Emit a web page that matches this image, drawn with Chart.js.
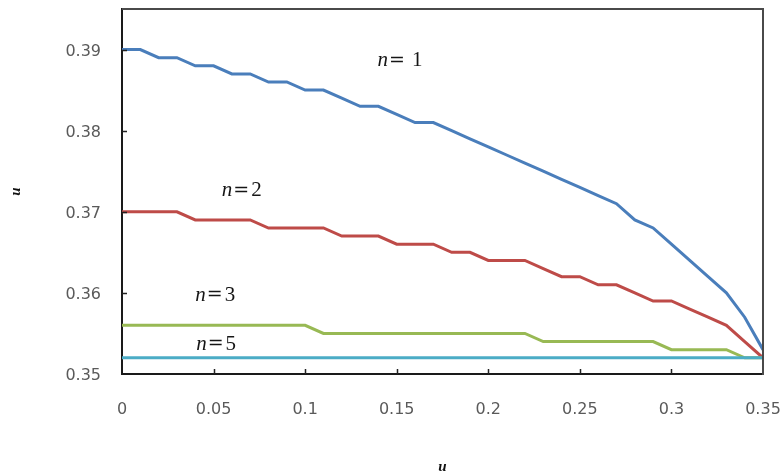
<!DOCTYPE html>
<html>
<head>
<meta charset="utf-8">
<script src="https://cdn.jsdelivr.net/npm/chart.js@4/dist/chart.umd.min.js"></script>
<style>
html,body{margin:0;padding:0;background:#fff;}
#wrap{width:781px;height:476px;position:relative;}
</style>
</head>
<body>
<div id="wrap"><canvas id="c" width="781" height="476"></canvas></div>
<script>
const uValues = [0,0.01,0.02,0.03,0.04,0.05,0.06,0.07,0.08,0.09,0.10,0.11,0.12,0.13,0.14,0.15,0.16,0.17,0.18,0.19,0.20,0.21,0.22,0.23,0.24,0.25,0.26,0.27,0.28,0.29,0.30,0.31,0.32,0.33,0.34,0.35];
const seriesN1 = [0.390,0.390,0.389,0.389,0.388,0.388,0.387,0.387,0.386,0.386,0.385,0.385,0.384,0.383,0.383,0.382,0.381,0.381,0.380,0.379,0.378,0.377,0.376,0.375,0.374,0.373,0.372,0.371,0.369,0.368,0.366,0.364,0.362,0.360,0.357,0.353];
const seriesN2 = [0.370,0.370,0.370,0.370,0.369,0.369,0.369,0.369,0.368,0.368,0.368,0.368,0.367,0.367,0.367,0.366,0.366,0.366,0.365,0.365,0.364,0.364,0.364,0.363,0.362,0.362,0.361,0.361,0.360,0.359,0.359,0.358,0.357,0.356,0.354,0.352];
const seriesN3 = [0.356,0.356,0.356,0.356,0.356,0.356,0.356,0.356,0.356,0.356,0.356,0.355,0.355,0.355,0.355,0.355,0.355,0.355,0.355,0.355,0.355,0.355,0.355,0.354,0.354,0.354,0.354,0.354,0.354,0.354,0.353,0.353,0.353,0.353,0.352,0.352];
const seriesN5 = [0.352,0.352,0.352,0.352,0.352,0.352,0.352,0.352,0.352,0.352,0.352,0.352,0.352,0.352,0.352,0.352,0.352,0.352,0.352,0.352,0.352,0.352,0.352,0.352,0.352,0.352,0.352,0.352,0.352,0.352,0.352,0.352,0.352,0.352,0.352,0.352];
const seriesNames = ['n= 1','n=2','n=3','n=5'];
const xTickLabels = ['0','0.05','0.1','0.15','0.2','0.25','0.3','0.35'];
const yTickLabels = ['0.35','0.36','0.37','0.38','0.39'];
const xAxisTitle = 'u';
const yAxisTitle = 'u';

const colors = ['#4A7EBB','#BE4B48','#98B954','#4BACC6'];
const allSeries = [seriesN1, seriesN2, seriesN3, seriesN5];
// label anchor points in data coordinates (left edge, vertical middle)
const labelAnchors = [[0.1395,0.3886],[0.0545,0.3726],[0.0400,0.3597],[0.0405,0.3537]];

const datasets = allSeries.map((s, i) => ({
  label: seriesNames[i],
  data: uValues.map((u, j) => ({x: u, y: s[j]})),
  borderColor: colors[i],
  backgroundColor: colors[i],
  borderWidth: 3,
  pointRadius: 0,
  tension: 0,
  fill: false,
  order: allSeries.length - i
}));

const decor = {
  id: 'decor',
  afterDatasetsDraw(chart) {
    const {ctx, chartArea: a, scales: {x, y}} = chart;
    ctx.save();
    // top and right frame
    ctx.strokeStyle = '#4a4a4a';
    ctx.lineWidth = 2;
    ctx.beginPath();
    ctx.moveTo(a.left, a.top); ctx.lineTo(a.right, a.top); ctx.lineTo(a.right, a.bottom + 1);
    ctx.stroke();
    // inward ticks
    ctx.strokeStyle = '#222';
    ctx.lineWidth = 1.5;
    ctx.beginPath();
    x.ticks.forEach(t => {
      const px = Math.round(x.getPixelForValue(t.value)) + 0.5;
      if (px > a.left + 3 && px < a.right - 3) { ctx.moveTo(px, a.bottom); ctx.lineTo(px, a.bottom - 5); }
    });
    y.ticks.forEach(t => {
      const py = Math.round(y.getPixelForValue(t.value)) + 0.5;
      if (py < a.bottom - 3 && py > a.top + 3) { ctx.moveTo(a.left, py); ctx.lineTo(a.left + 5, py); }
    });
    ctx.stroke();
    // series labels
    ctx.fillStyle = '#151515';
    ctx.textBaseline = 'middle';
    labelAnchors.forEach((p, i) => {
      let px = x.getPixelForValue(p[0]);
      const py = y.getPixelForValue(p[1]);
      const name = seriesNames[i];
      ctx.font = 'italic 21px "Liberation Serif", serif';
      ctx.fillText(name[0], px, py);
      px += ctx.measureText(name[0]).width + 1;
      ctx.font = '19px "DejaVu Serif", serif';
      ctx.fillText('=', px, py);
      px += ctx.measureText('=').width + 2;
      const rest = name.slice(2);
      if (rest.startsWith(' ')) px += 5;
      ctx.font = '21px "Liberation Serif", serif';
      ctx.fillText(rest.trim(), px, py);
    });
    ctx.restore();
  }
};

new Chart(document.getElementById('c'), {
  type: 'line',
  data: {datasets},
  options: {
    responsive: false,
    animation: false,
    events: [],
    layout: {padding: {top: 9, right: 18, left: 0, bottom: 0}},
    plugins: {legend: {display: false}, tooltip: {enabled: false}},
    scales: {
      x: {
        type: 'linear', min: 0, max: 0.35,
        ticks: {
          stepSize: 0.05, color: '#5a5a5a', padding: 26, maxRotation: 0, autoSkip: false,
          font: {family: '"DejaVu Sans", sans-serif', size: 16},
          callback: (v, i) => xTickLabels[i]
        },
        grid: {display: false, drawTicks: false},
        border: {display: true, color: '#1a1a1a', width: 2},
        title: {display: true, text: xAxisTitle, color: '#111', padding: {top: 0, bottom: 0},
          font: {family: '"Liberation Serif", serif', size: 15, style: 'italic', weight: 'bold'}},
        afterFit(s) { s.height = 102; s.paddingLeft = 0; s.paddingRight = 0; }
      },
      y: {
        type: 'linear', min: 0.35, max: 0.395,
        afterBuildTicks(s) { s.ticks = s.ticks.filter(t => t.value < 0.3905); },
        ticks: {
          stepSize: 0.01, color: '#5a5a5a', padding: 21, labelOffset: 2,
          font: {family: '"DejaVu Sans", sans-serif', size: 16},
          callback: (v, i) => yTickLabels[i]
        },
        grid: {display: false, drawTicks: false},
        border: {display: true, color: '#1a1a1a', width: 2},
        title: {display: true, text: yAxisTitle, color: '#111', padding: {top: 7, bottom: 0},
          font: {family: '"Liberation Serif", serif', size: 15, style: 'italic', weight: 'bold'}},
        afterFit(s) { s.width = 122; s.paddingTop = 0; s.paddingBottom = 0; }
      }
    }
  },
  plugins: [decor]
});
</script>
</body>
</html>
